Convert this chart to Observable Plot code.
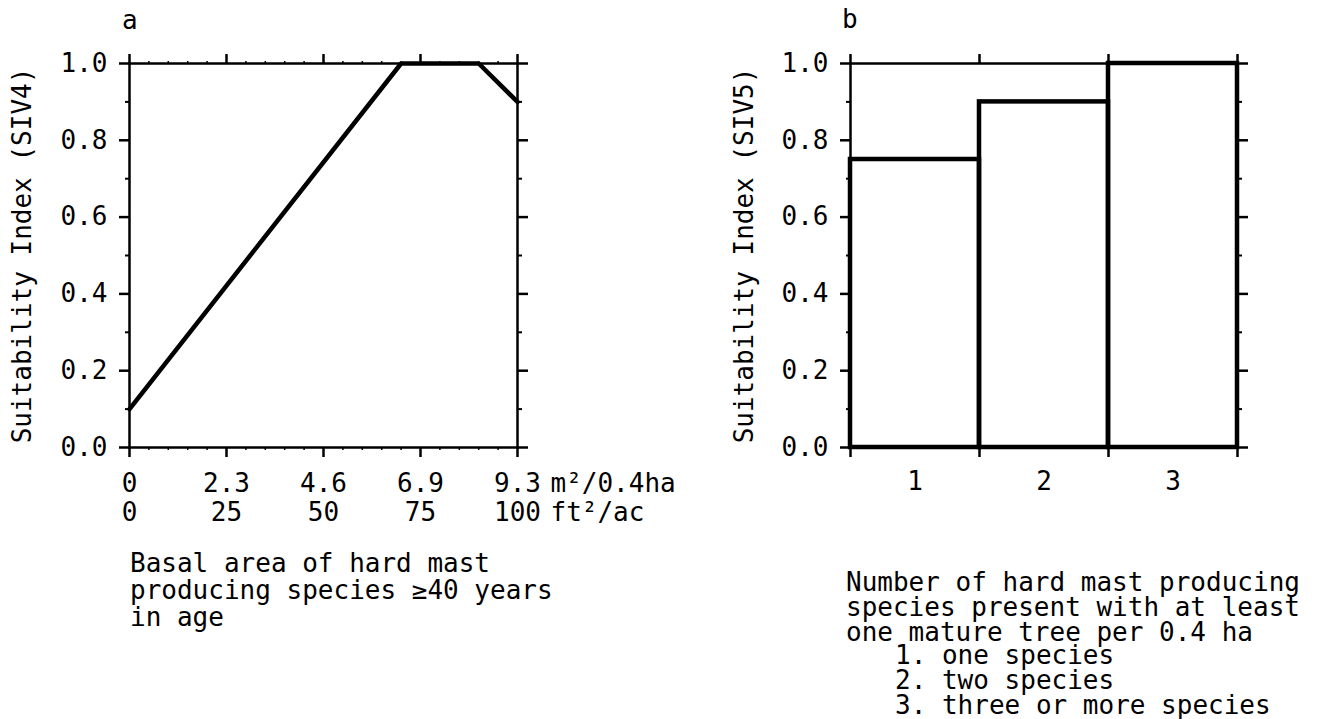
<!DOCTYPE html>
<html>
<head>
<meta charset="utf-8">
<script src="https://cdn.jsdelivr.net/npm/d3@7"></script>
<script src="https://cdn.jsdelivr.net/npm/@observablehq/plot@0.6"></script>
<style>
  html, body { margin: 0; padding: 0; background: #fff; }
  #root { position: relative; width: 1326px; height: 719px; overflow: hidden; background: #fff; font-family: "DejaVu Sans Mono", monospace; color: #000; }
  .panel { position: absolute; top: 0; }
  .txt { position: absolute; font-family: "DejaVu Sans Mono", monospace; font-size: 26px; white-space: pre; color: #000; }
</style>
</head>
<body>
<div id="root"></div>
<script>
// ---------- Data ----------
// Panel a: basal area (ft2/ac) vs SIV4
const basalArea = [0, 70, 90, 100];
const siv4 = [0.1, 1.0, 1.0, 0.9];
const xTicksA = [0, 25, 50, 75, 100];
const xLabelsMetric = ["0", "2.3", "4.6", "6.9", "9.3"];
const xLabelsImperial = ["0", "25", "50", "75", "100"];
const unitMetric = "m²/0.4ha";
const unitImperial = "ft²/ac";
// Panel b: number of species vs SIV5
const speciesCount = [1, 2, 3];
const siv5 = [0.75, 0.9, 1.0];
// Shared y ticks
const yMajor = [0, 0.2, 0.4, 0.6, 0.8, 1.0];
const yMinor = [0.1, 0.3, 0.5, 0.7, 0.9];
const xMinorA = [5, 10, 15, 20, 30, 35, 40, 45, 55, 60, 65, 70, 80, 85, 90, 95];
const xTicksB = [0.5, 1.5, 2.5, 3.5];

const FONT = "DejaVu Sans Mono";
const root = document.getElementById("root");
const W = 663, H = 719;
const style = {fontFamily: FONT, fontSize: "26px", background: "transparent", color: "#000", overflow: "visible"};
const noText = () => "";

function yAxes() {
  return [
    Plot.axisY({anchor: "left", ticks: yMajor, tickSize: 10, tickPadding: 12, tickFormat: d3.format(".1f"), strokeWidth: 2.5, label: null}),
    Plot.axisY({anchor: "right", ticks: yMajor, tickSize: 10, tickFormat: noText, strokeWidth: 2.5, label: null}),
    Plot.axisY({anchor: "left", ticks: yMinor, tickSize: 4, tickFormat: noText, strokeWidth: 2, label: null}),
    Plot.axisY({anchor: "right", ticks: yMinor, tickSize: 4, tickFormat: noText, strokeWidth: 2, label: null})
  ];
}

// ---------- Panel a ----------
const dataA = basalArea.map((x, i) => ({x, y: siv4[i]}));
const plotA = Plot.plot({
  width: W, height: H,
  marginLeft: 129, marginRight: 146, marginTop: 63, marginBottom: 272,
  style,
  x: {domain: [0, 100], axis: null},
  y: {domain: [0, 1], axis: null},
  marks: [
    Plot.frame({stroke: "#000", strokeWidth: 2.5}),
    ...yAxes(),
    Plot.axisX({anchor: "bottom", ticks: xTicksA, tickSize: 10, tickFormat: noText, strokeWidth: 2.5, label: null}),
    Plot.axisX({anchor: "top", ticks: xTicksA, tickSize: 10, tickFormat: noText, strokeWidth: 2.5, label: null}),
    Plot.axisX({anchor: "bottom", ticks: xMinorA, tickSize: 3, tickFormat: noText, strokeWidth: 1.5, label: null}),
    Plot.axisX({anchor: "top", ticks: xMinorA, tickSize: 3, tickFormat: noText, strokeWidth: 1.5, label: null}),
    Plot.text(xTicksA, {x: d => d, text: (d, i) => xLabelsMetric[i], frameAnchor: "bottom", lineAnchor: "bottom", dy: 44}),
    Plot.text(xTicksA, {x: d => d, text: (d, i) => xLabelsImperial[i], frameAnchor: "bottom", lineAnchor: "bottom", dy: 73}),
    Plot.text([unitMetric], {x: 100, text: d => d, frameAnchor: "bottom", lineAnchor: "bottom", textAnchor: "start", dx: 33, dy: 44}),
    Plot.text([unitImperial], {x: 100, text: d => d, frameAnchor: "bottom", lineAnchor: "bottom", textAnchor: "start", dx: 33, dy: 73}),
    Plot.text(["Suitability Index (SIV4)"], {frameAnchor: "left", textAnchor: "middle", rotate: -90, dx: -107, text: d => d}),
    Plot.line(dataA, {x: "x", y: "y", stroke: "#000", strokeWidth: 4.5, strokeLinejoin: "round"})
  ]
});
plotA.classList.add("panel");
plotA.style.left = "0px";
root.appendChild(plotA);

// ---------- Panel b ----------
const dataB = speciesCount.map((c, i) => ({c, v: siv5[i]}));
const plotB = Plot.plot({
  width: W, height: H,
  marginLeft: 187, marginRight: 89, marginTop: 63, marginBottom: 272,
  style,
  x: {domain: [0.5, 3.5], axis: null},
  y: {domain: [0, 1], axis: null},
  marks: [
    Plot.frame({stroke: "#000", strokeWidth: 2.5}),
    ...yAxes(),
    Plot.axisX({anchor: "bottom", ticks: xTicksB, tickSize: 10, tickFormat: noText, strokeWidth: 2.5, label: null}),
    Plot.axisX({anchor: "top", ticks: xTicksB, tickSize: 10, tickFormat: noText, strokeWidth: 2.5, label: null}),
    Plot.text(speciesCount, {x: d => d, text: d => String(d), frameAnchor: "bottom", lineAnchor: "bottom", dy: 42}),
    Plot.text(["Suitability Index (SIV5)"], {frameAnchor: "left", textAnchor: "middle", rotate: -90, dx: -106, text: d => d}),
    Plot.rect(dataB, {x1: d => d.c - 0.5, x2: d => d.c + 0.5, y1: 0, y2: "v", fill: "none", stroke: "#000", strokeWidth: 4.5})
  ]
});
plotB.classList.add("panel");
plotB.style.left = W + "px";
root.appendChild(plotB);

// ---------- Text labels ----------
function addText(str, left, top, lh) {
  const d = document.createElement("div");
  d.className = "txt";
  d.style.left = left + "px";
  d.style.top = top + "px";
  d.style.lineHeight = lh + "px";
  d.textContent = str;
  root.appendChild(d);
}
addText("a", 122, 7, 27);
addText("b", 842, 6, 27);
addText("Basal area of hard mast\nproducing species ≥40 years\nin age", 130, 550, 27);
addText("Number of hard mast producing\nspecies present with at least\none mature tree per 0.4 ha", 846, 570, 25);
addText("1. one species\n2. two species\n3. three or more species", 895, 643, 25);
</script>
</body>
</html>
